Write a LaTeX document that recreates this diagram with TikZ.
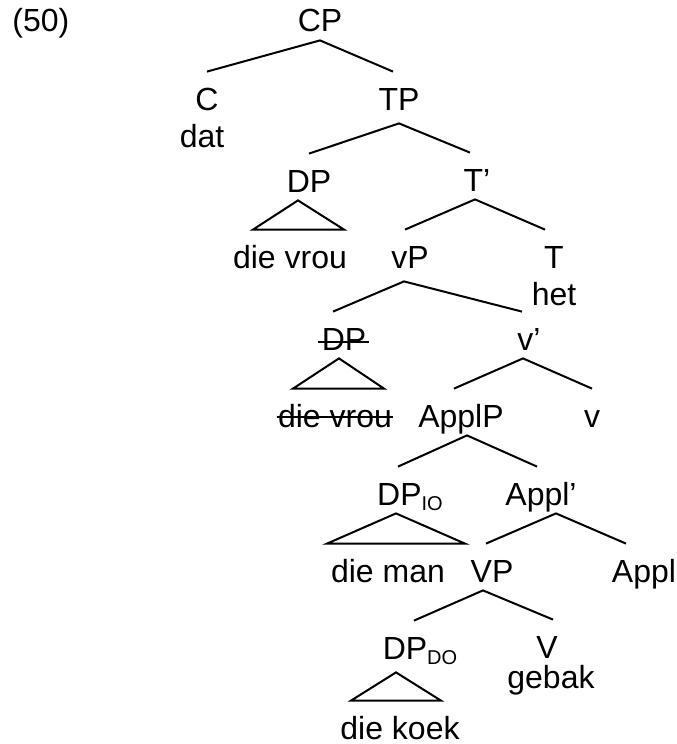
\documentclass[tikz,border=0pt]{standalone}
\usepackage{fontspec}
\setmainfont{Liberation Sans}
\tikzstyle{cat}=[anchor=base,inner sep=0pt,text height=19pt,text depth=4pt,font=\fontsize{16}{19}\selectfont]
\tikzstyle{deep}=[cat,text depth=6.5pt]
\tikzstyle{branch}=[line width=1pt]
\tikzstyle{strike}=[line width=1pt]
\newcommand\lowsub[1]{\raisebox{-2.5pt}{\fontsize{10}{10}\selectfont #1}}
\begin{document}
\begin{tikzpicture}[x=0.5pt,y=-0.5pt]
	\useasboundingbox (0,0) rectangle (676,744);
	% labels
	\node[cat,anchor=base west] (ex) at (12,32) {(50)};
	\node[cat] (cp)     at (320,32)  {CP};
	\node[cat] (c)      at (207,110) {C};
	\node[cat] (dat)    at (202,147) {dat};
	\node[deep] (tp)    at (399,110) {TP};
	\node[cat] (dpa)    at (309,192) {DP};
	\node[cat] (tbar)   at (477,191) {T'};
	\node[cat] (vroua)  at (290,268) {die vrou};
	\node[deep] (vp)    at (410,268) {vP};
	\node[cat] (t)      at (554,268) {T};
	\node[cat] (het)    at (554,305) {het};
	\node[cat] (dpb)    at (344,350) {DP};
	\node[cat] (vbar)   at (529,350) {v'};
	\node[cat] (vroub)  at (335,427) {die vrou};
	\node[cat] (applp)  at (461,427) {ApplP};
	\node[cat] (v)      at (592,427) {v};
	\node[cat] (dpio)   at (410,505) {DP\lowsub{IO}};
	\node[cat] (applbar) at (541,505) {Appl'};
	\node[cat] (man)    at (388,582) {die man};
	\node[cat] (bigvp)  at (492,582) {VP};
	\node[cat] (appl)   at (644,582) {Appl};
	\node[deep] (dpdo)  at (420,659) {DP\lowsub{DO}};
	\node[cat] (bigv)   at (547,658) {V};
	\node[cat] (gebak)  at (551,688) {gebak};
	\node[cat] (koek)   at (400,739) {die koek};
	% branches
	\draw[branch] (c.north) -- (cp.south) -- ([xshift=-3pt]tp.north);
	\draw[branch] (dpa.north) -- (tp.south) -- ([xshift=-3.5pt]tbar.north);
	\draw[branch] ([xshift=-2.5pt]vp.north) -- ([xshift=-1pt]tbar.south) -- ([xshift=-4.5pt]t.north);
	\draw[branch] ([xshift=-5.5pt]dpb.north) -- ([xshift=-3pt]vp.south) -- ([xshift=-3.5pt]vbar.north);
	\draw[branch] ([xshift=-3.5pt]applp.north) -- ([xshift=-3pt]vbar.south) -- (v.north);
	\draw[branch] ([xshift=-6pt]dpio.north) -- ([xshift=3pt]applp.south) -- ([xshift=-2pt]applbar.north);
	\draw[branch] ([xshift=-3pt]bigvp.north) -- ([xshift=7.5pt]applbar.south) -- ([xshift=-9pt]appl.north);
	\draw[branch] ([xshift=-3pt]dpdo.north) -- ([xshift=-4.5pt]bigvp.south) -- ([xshift=3pt]bigv.north);
	% roofs
	\draw[branch] ([xshift=-5.5pt]dpa.south) -- ([xshift=-18.5pt]vroua.north) -- ([xshift=27pt]vroua.north) -- cycle;
	\draw[branch] ([xshift=-2.5pt]dpb.south) -- ([xshift=-21pt]vroub.north) -- ([xshift=24.5pt]vroub.north) -- cycle;
	\draw[branch] ([xshift=-7pt]dpio.south) -- ([xshift=-30.5pt]man.north) -- ([xshift=38.5pt]man.north) -- cycle;
	\draw[branch] ([xshift=-12pt]dpdo.south) -- ([xshift=-24.5pt]koek.north) -- ([xshift=20.5pt]koek.north) -- cycle;
	% traces
	\draw[strike] ([xshift=-1.5pt,yshift=4pt]dpb.base west) -- ([xshift=1pt,yshift=4pt]dpb.base east);
	\draw[strike] ([xshift=-0.5pt,yshift=5pt]vroub.base west) -- ([xshift=0.5pt,yshift=5pt]vroub.base east);
\end{tikzpicture}
\end{document}
